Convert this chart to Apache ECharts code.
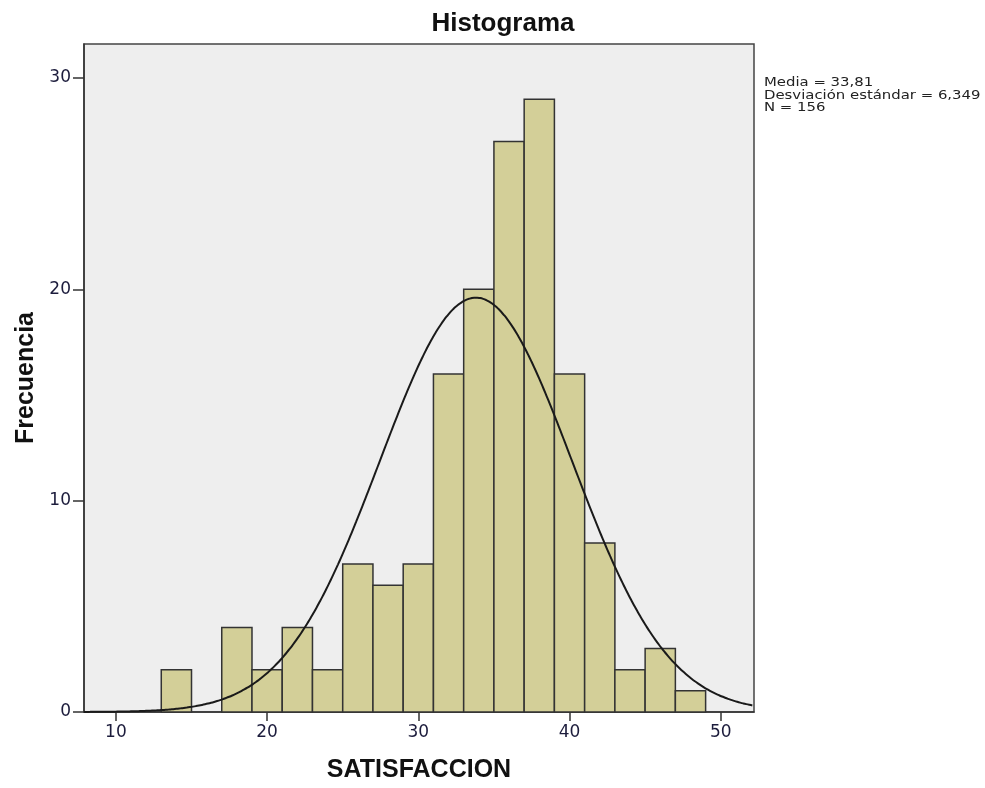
<!DOCTYPE html>
<html>
<head>
<meta charset="utf-8">
<script src="https://cdn.jsdelivr.net/npm/echarts@6/dist/echarts.min.js"></script>
<style>
  html, body { margin: 0; padding: 0; background: #ffffff; }
  #chart { width: 985px; height: 788px; }
</style>
</head>
<body>
<div id="chart"></div>
<script>
// Histogram of SATISFACCION with its fitted normal curve
const binStarts = [13, 15, 17, 19, 21, 23, 25, 27, 29, 31, 33, 35, 37, 39, 41, 43, 45, 47];
const binWidth = 2;
const frequencies = [2, 0, 4, 2, 4, 2, 7, 6, 7, 16, 20, 27, 29, 16, 8, 2, 3, 1];
const xTicks = [10, 20, 30, 40, 50];
const yTicks = [0, 10, 20, 30];
const media = 33.81;
const desviacion = 6.349;
const n = 156;
const statLines = ['Media = 33,81', 'Desviación estándar = 6,349', 'N = 156'];

const xMin = 7.89, xMax = 52.2, yMax = 31.61;

// Normal curve scaled to counts per bin, from the stated mean, SD and N
const curve = [];
for (let x = xMin; x <= xMax + 1e-9; x += 0.2) {
  const z = (x - media) / desviacion;
  curve.push([x, n * binWidth * Math.exp(-0.5 * z * z) / (desviacion * Math.sqrt(2 * Math.PI))]);
}

const bars = binStarts.map((s, i) => [s, s + binWidth, frequencies[i]]);

const chart = echarts.init(document.getElementById('chart'), null, { renderer: 'canvas' });
const labelFont = '"Liberation Sans", Arial, sans-serif';
const tickFont = '"DejaVu Sans", sans-serif';

chart.setOption({
  animation: false,
  backgroundColor: '#ffffff',
  title: {
    text: 'Histograma',
    left: 498, top: 6, textAlign: 'center',
    textStyle: { fontFamily: labelFont, fontSize: 26, fontWeight: 'bold', color: '#111' }
  },
  grid: {
    left: 84, right: 231, top: 44, bottom: 76,
    outerBoundsMode: 'none',
    containLabel: false,
    show: true, backgroundColor: '#eeeeee', borderColor: '#444', borderWidth: 1.5
  },
  xAxis: {
    type: 'value', min: xMin, max: xMax,
    name: 'SATISFACCION', nameLocation: 'middle', nameGap: 46,
    nameTextStyle: { fontFamily: labelFont, fontSize: 25, fontWeight: 'bold', color: '#111' },
    axisLine: { show: true, lineStyle: { color: '#333', width: 1.5 } },
    axisTick: { show: true, customValues: xTicks, length: 9, lineStyle: { color: '#333', width: 1.5 } },
    axisLabel: { customValues: xTicks, fontFamily: tickFont, fontSize: 17, color: '#1c1c3c', margin: 12 },
    splitLine: { show: false }
  },
  yAxis: {
    type: 'value', min: 0, max: yMax,
    name: 'Frecuencia', nameLocation: 'middle', nameGap: 41, nameRotate: 90,
    nameTextStyle: { fontFamily: labelFont, fontSize: 25, fontWeight: 'bold', color: '#111' },
    axisLine: { show: true, lineStyle: { color: '#333', width: 1.5 } },
    axisTick: { show: true, customValues: yTicks, length: 11, lineStyle: { color: '#333', width: 1.5 } },
    axisLabel: { customValues: yTicks, fontFamily: tickFont, fontSize: 17, color: '#1c1c3c', margin: 13 },
    splitLine: { show: false }
  },
  series: [
    {
      type: 'custom',
      data: bars,
      renderItem: function (params, api) {
        const v = api.value(2);
        if (!v) return null;
        const p0 = api.coord([api.value(0), 0]);
        const p1 = api.coord([api.value(1), v]);
        return {
          type: 'rect',
          shape: { x: p0[0], y: p1[1], width: p1[0] - p0[0], height: p0[1] - p1[1] },
          style: { fill: '#d3cf98', stroke: '#333', lineWidth: 1.5 }
        };
      },
      z: 2
    },
    {
      type: 'line',
      data: curve,
      showSymbol: false,
      smooth: true,
      lineStyle: { color: '#1a1a1a', width: 2 },
      z: 3
    }
  ],
  graphic: [{
    type: 'text', x: 764, y: 77, scaleX: 1.24,
    style: {
      text: statLines.join('\n'),
      font: '12px "DejaVu Sans", sans-serif',
      lineHeight: 12.5,
      fill: '#222'
    }
  }]
});
</script>
</body>
</html>
